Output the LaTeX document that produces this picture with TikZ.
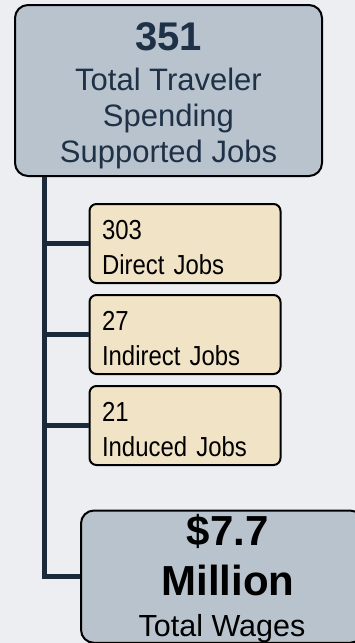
\documentclass[tikz,border=0pt]{standalone}
\usepackage{fontspec}
\setmainfont{Liberation Sans}
\newfontfamily\narrowfont[FakeStretch=0.87,WordSpace=0.75]{Liberation Sans}
\usetikzlibrary{positioning}

\definecolor{pagebg}{RGB}{237,238,242}
\definecolor{slate}{RGB}{185,195,206}
\definecolor{sand}{RGB}{241,227,197}
\definecolor{navy}{RGB}{30,49,70}
\definecolor{trunk}{RGB}{27,42,58}

\newcommand{\bignum}[1][40]{\fontsize{#1}{44}\selectfont\bfseries}

\tikzset{
  bigbox/.style={draw=black, line width=2pt, rounded corners=13pt, fill=slate,
    align=center, inner sep=0pt},
  jobbox/.style={draw=black, line width=2pt, rounded corners=7pt, fill=sand,
    align=left, text width=166pt, minimum height=79pt, inner xsep=12.5pt, inner ysep=0pt,
    font=\narrowfont\fontsize{27.5}{35}\selectfont,
    execute at begin node=\rule{0pt}{27pt}},
  branch/.style={draw=trunk, line width=5pt},
}

\begin{document}
\begin{tikzpicture}[x=1pt,y=-1pt]
  %page
  \useasboundingbox (0,0) rectangle (355,643);
  \fill[pagebg] (0,0) rectangle (355,643);

  % total jobs on top
  \node[bigbox, minimum width=307pt, minimum height=171pt, text=navy,
        font=\fontsize{31}{36}\selectfont] (total) at (168.5,90.5)
    {\rule{0pt}{38pt}{\bignum 351}\\[4pt]
     Total Traveler\\ Spending\\ Supported Jobs};

  % the three kinds of jobs
  \node[jobbox] (direct) at (185,243.5) {303\\Direct Jobs};
  \node[jobbox, below=10pt of direct] (indirect) {27\\Indirect Jobs};
  \node[jobbox, below=10pt of indirect] (induced) {21\\Induced Jobs};

  % wages, runs off the page
  \node[bigbox, anchor=north west, minimum width=282pt, minimum height=131.5pt,
        font=\fontsize{30.5}{36}\selectfont] (wages) at (80,509.5)
    {\rule{0pt}{35pt}{\bignum[42] \$7.7}\\[14pt] {\bignum[42] Million}\\[5pt]
     Total Wages};

  % spine and branches
  \coordinate (root) at ([xshift=30.5pt]total.south west);
  \draw[branch] (root) |- (wages.west);
  \draw[branch] (direct.west -| root) -- (direct.west);
  \draw[branch] (indirect.west -| root) -- (indirect.west);
  \draw[branch] (induced.west -| root) -- (induced.west);
\end{tikzpicture}
\end{document}
